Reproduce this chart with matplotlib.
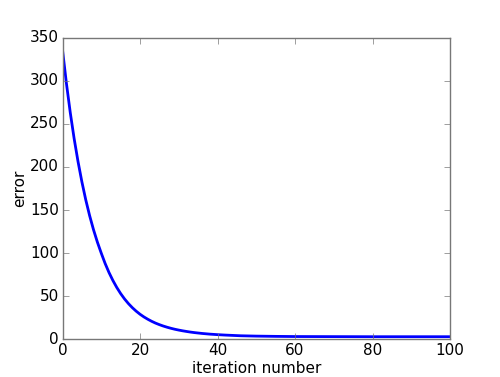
import numpy as np
import matplotlib
matplotlib.use('Agg')
import matplotlib.pyplot as plt

# error values
iters = [0, 1, 2, 3, 4, 5, 6, 7, 8, 9, 10, 11, 12, 13, 14, 15, 16, 17, 18, 19,
         20, 21, 22, 23, 24, 25, 26, 27, 28, 29, 30, 31, 32, 33, 34, 35, 36, 37,
         38, 39, 40, 42, 44, 46, 48, 50, 55, 60, 70, 80, 90, 100]
error = [336.0, 297.4, 263.2, 233.0, 206.4, 182.8, 161.9, 143.5, 127.2, 112.8,
         100.0, 88.0, 77.5, 68.3, 60.2, 53.1, 46.9, 41.5, 36.8, 32.7,
         29.1, 26.0, 23.3, 20.9, 18.8, 17.0, 15.4, 14.0, 12.75, 11.65,
         10.7, 9.85, 9.1, 8.4, 7.8, 7.3, 6.8, 6.4,
         6.0, 5.7, 5.4, 4.9, 4.5, 4.1, 3.9, 3.7, 3.4, 3.2, 3.1, 3.0, 3.0, 3.0]

plt.style.use('classic')
plt.rcParams['font.family'] = ['DejaVu Sans']
plt.rcParams['font.size'] = 11

fig, ax = plt.subplots(figsize=(5, 3.77), dpi=100)
fig.patch.set_facecolor('white')
ax.plot(iters, error, color='b', linewidth=2)
ax.set_xlim([0, 100])
ax.set_ylim([0, 350])
ax.tick_params(labelsize=11, pad=2.7, color='#777777')
for s in ax.spines.values():
    s.set_edgecolor('#777777')
ax.set_xlabel('iteration number', fontsize=11, labelpad=2)
ax.set_ylabel('error', fontsize=11, labelpad=2)
fig.savefig('out.png', dpi=100, facecolor='white')
